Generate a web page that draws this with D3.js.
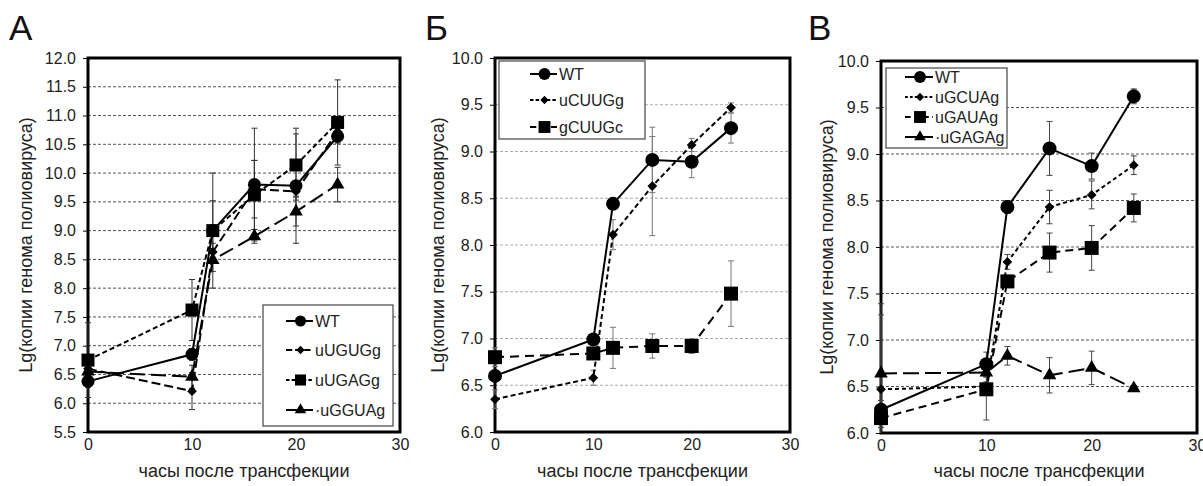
<!DOCTYPE html>
<html>
<head>
<meta charset="utf-8">
<script src="https://cdn.jsdelivr.net/npm/d3@7"></script>
<style>
  body { margin: 0; background: #fff; }
  svg { display: block; font-family: "Liberation Sans", Arial, sans-serif; }
</style>
</head>
<body>
<svg id="chart" width="1203" height="486"></svg>
<script>
// hours after transfection
const hours = [0, 10, 12, 16, 20, 24];

// panel A
const aWT = [6.38, 6.85, 9.0, 9.8, 9.78, 10.64];
const aWTerr = [0.1, 0.1, 1.0, 0.98, 1.0, 0.1];
const aUGUG = [6.6, 6.21, 8.63, 9.72, 9.68, 10.72];
const aUGUGerr = [0.1, 0.32, 0.15, 0.5, 0.15, 0.2];
const aUGAG = [6.75, 7.62, 9.0, 9.62, 10.14, 10.88];
const aUGAGerr = [0.65, 0.53, 0.52, 0.6, 0.54, 0.74];
const aGGUA = [6.55, 6.46, 8.49, 8.9, 9.33, 9.8];
const aGGUAerr = [0.1, 0.2, 0.2, 0.12, 0.25, 0.3];

// panel Б
const bWT = [6.6, 6.99, 8.44, 8.91, 8.89, 9.25];
const bWTerr = [0.05, 0.05, 0.05, 0.35, 0.17, 0.16];
const bCUUG = [6.35, 6.58, 8.11, 8.63, 9.07, 9.47];
const bCUUGerr = [0.1, 0.08, 0.16, 0.53, 0.07, 0.05];
const bgCUUGc = [6.8, 6.84, 6.9, 6.92, 6.92, 7.48];
const bgCUUGcerr = [0.1, 0.05, 0.22, 0.13, 0.08, 0.35];

// panel В
const vWT = [6.25, 6.74, 8.43, 9.06, 8.87, 9.62];
const vWTerr = [0.1, 0.13, 0.07, 0.29, 0.14, 0.08];
const vGCUA = [6.47, 6.5, 7.84, 8.43, 8.56, 8.88];
const vGCUAerr = [0.8, 0.05, 0.08, 0.18, 0.15, 0.1];
const vGAUA = [6.16, 6.47, 7.63, 7.94, 7.99, 8.42];
const vGAUAerr = [0.1, 0.33, 0.05, 0.21, 0.24, 0.15];
const vGAGA = [6.64, 6.65, 6.83, 6.62, 6.7, 6.48];
const vGAGAerr = [0.75, 0.05, 0.1, 0.19, 0.18, 0.03];

const xTicks = [0, 10, 20, 30];
const yLabel = "Lg(копии генома полиовируса)";
const xLabel = "часы после трансфекции";

const svg = d3.select("#chart");

const panels = [
  {
    letter: "A", lx: 9, x0: 88, x1: 400, y0: 432, y1: 58, ymin: 5.5, ymax: 12,
    titleX: 26, grid: "#555", gridDash: "3,2", errColor: "#333",
    legend: { x: 263, y: 305, w: 130, h: 121, rowY: [321, 350, 380, 410], lineX: 286, lineW: 27 },
    series: [
      { name: "WT", v: aWT, e: aWTerr, dash: null, marker: "circle", size: 6.5 },
      { name: "uUGUGg", v: aUGUG, e: aUGUGerr, dash: "9,4", marker: "diamond", size: 5.5 },
      { name: "uUGAGg", v: aUGAG, e: aUGAGerr, dash: "5,3", marker: "square", size: 6.5 },
      { name: "·uGGUAg", v: aGGUA, e: aGGUAerr, dash: "15,6", marker: "triangle", size: 6.5 }
    ]
  },
  {
    letter: "Б", lx: 425, x0: 495, x1: 790, y0: 432, y1: 58, ymin: 6, ymax: 10,
    titleX: 438, grid: "#aaa", gridDash: "3,2", errColor: "#777",
    legend: { x: 499, y: 61, w: 146, h: 78, rowY: [74, 100, 127], lineX: 530, lineW: 27 },
    series: [
      { name: "WT", v: bWT, e: bWTerr, dash: null, marker: "circle", size: 7 },
      { name: "uCUUGg", v: bCUUG, e: bCUUGerr, dash: "5,3", marker: "diamond", size: 5.5 },
      { name: "gCUUGc", v: bgCUUGc, e: bgCUUGcerr, dash: "9,6", marker: "square", size: 7 }
    ]
  },
  {
    letter: "В", lx: 808, x0: 881, x1: 1197, y0: 433, y1: 61, ymin: 6, ymax: 10,
    titleX: 827, grid: "#555", gridDash: "3,2", errColor: "#444",
    legend: { x: 886, y: 68, w: 121, h: 80, rowY: [77, 97, 117, 137], lineX: 905, lineW: 28 },
    series: [
      { name: "WT", v: vWT, e: vWTerr, dash: null, marker: "circle", size: 7 },
      { name: "uGCUAg", v: vGCUA, e: vGCUAerr, dash: "4,3", marker: "diamond", size: 5.5 },
      { name: "uGAUAg", v: vGAUA, e: vGAUAerr, dash: "8,5", marker: "square", size: 7 },
      { name: "·uGAGAg", v: vGAGA, e: vGAGAerr, dash: "16,6", marker: "triangle", size: 6.5 }
    ]
  }
];

function symbolFor(m) {
  if (m === "circle") return d3.symbolCircle;
  if (m === "square") return d3.symbolSquare;
  if (m === "diamond") return d3.symbolDiamond2;
  return d3.symbolTriangle;
}
function symbolArea(m, s) {
  if (m === "circle") return Math.PI * s * s;
  if (m === "square") return 4 * s * s;
  if (m === "diamond") return 2 * s * s;
  return 1.9 * s * s;
}

panels.forEach((p, pi) => {
  const x = d3.scaleLinear().domain([0, 30]).range([p.x0, p.x1]);
  const y = d3.scaleLinear().domain([p.ymin, p.ymax]).range([p.y0, p.y1]);
  const g = svg.append("g");

  svg.append("clipPath").attr("id", "clip" + pi).append("rect")
    .attr("x", p.x0 - 10).attr("y", p.y1).attr("width", p.x1 - p.x0 + 10).attr("height", p.y0 - p.y1);

  // grid
  const gridVals = d3.range(p.ymin + 0.5, p.ymax - 0.01, 0.5);
  g.selectAll(".grid").data(gridVals).join("line")
    .attr("x1", p.x0).attr("x2", p.x1)
    .attr("y1", d => y(d)).attr("y2", d => y(d))
    .attr("stroke", p.grid).attr("stroke-width", 1)
    .attr("stroke-dasharray", p.gridDash);

  // axes
  const yAxis = d3.axisLeft(y).tickValues(d3.range(p.ymin, p.ymax + 0.01, 0.5))
    .tickFormat(d3.format(".1f")).tickSize(5).tickPadding(7);
  const gy = g.append("g").attr("transform", `translate(${p.x0},0)`).call(yAxis);
  const xAxis = d3.axisBottom(x).tickValues(xTicks).tickSize(0).tickPadding(7);
  const gx = g.append("g").attr("transform", `translate(0,${p.y0})`).call(xAxis);
  [gx, gy].forEach(a => {
    a.select(".domain").remove();
    a.selectAll("text").attr("font-size", 16).attr("fill", "#222")
      .attr("font-family", "'Liberation Sans', Arial, sans-serif");
  });
  gy.selectAll("line").attr("stroke", "#000");

  // frame
  g.append("rect")
    .attr("x", p.x0).attr("y", p.y1)
    .attr("width", p.x1 - p.x0).attr("height", p.y0 - p.y1)
    .attr("fill", "none").attr("stroke", "#000").attr("stroke-width", 3);

  // error bars
  p.series.forEach(s => {
    const eb = g.append("g").attr("stroke", p.errColor).attr("stroke-width", 1)
      .attr("clip-path", `url(#clip${pi})`);
    hours.forEach((h, i) => {
      const cx = x(h), top = y(s.v[i] + s.e[i]), bot = y(s.v[i] - s.e[i]);
      eb.append("line").attr("x1", cx).attr("x2", cx).attr("y1", top).attr("y2", bot);
      eb.append("line").attr("x1", cx - 3).attr("x2", cx + 3).attr("y1", top).attr("y2", top);
      eb.append("line").attr("x1", cx - 3).attr("x2", cx + 3).attr("y1", bot).attr("y2", bot);
    });
  });

  // lines + markers
  const line = d3.line().x((d, i) => x(hours[i])).y(d => y(d));
  p.series.forEach(s => {
    g.append("path").datum(s.v).attr("d", line)
      .attr("fill", "none").attr("stroke", "#000").attr("stroke-width", 2)
      .attr("stroke-dasharray", s.dash);
    g.selectAll(null).data(s.v).join("path")
      .attr("transform", (d, i) => `translate(${x(hours[i])},${y(d)})`)
      .attr("d", d3.symbol(symbolFor(s.marker), symbolArea(s.marker, s.size)))
      .attr("fill", "#000");
  });

  // legend
  const L = p.legend;
  g.append("rect").attr("x", L.x).attr("y", L.y).attr("width", L.w).attr("height", L.h)
    .attr("fill", "#fff").attr("stroke", "#444").attr("stroke-width", 1.2);
  p.series.forEach((s, i) => {
    const ry = L.rowY[i];
    g.append("line").attr("x1", L.lineX).attr("x2", L.lineX + L.lineW)
      .attr("y1", ry).attr("y2", ry).attr("stroke", "#000").attr("stroke-width", 2)
      .attr("stroke-dasharray", s.dash ? (s.marker === "triangle" ? null : s.dash.split(",").map(v => v * 0.7).join(",")) : null);
    g.append("path").attr("transform", `translate(${L.lineX + L.lineW / 2 + 1},${ry})`)
      .attr("d", d3.symbol(symbolFor(s.marker), symbolArea(s.marker, s.size * 0.85)))
      .attr("fill", "#000");
    g.append("text").attr("x", L.lineX + L.lineW + 2).attr("y", ry).attr("dy", "0.35em")
      .attr("font-size", 16).attr("fill", "#222").text(s.name);
  });

  // titles
  g.append("text").attr("x", (p.x0 + p.x1) / 2).attr("y", 477)
    .attr("text-anchor", "middle").attr("font-size", 18).attr("fill", "#222").text(xLabel);
  g.append("text").attr("transform", `translate(${p.titleX},${(p.y0 + p.y1) / 2}) rotate(-90)`)
    .attr("text-anchor", "middle").attr("dy", "0.35em")
    .attr("font-size", 18).attr("fill", "#222").text(yLabel);
  g.append("text").attr("x", p.lx).attr("y", 40)
    .attr("font-size", 35).attr("fill", "#111").text(p.letter);
});
</script>
</body>
</html>
